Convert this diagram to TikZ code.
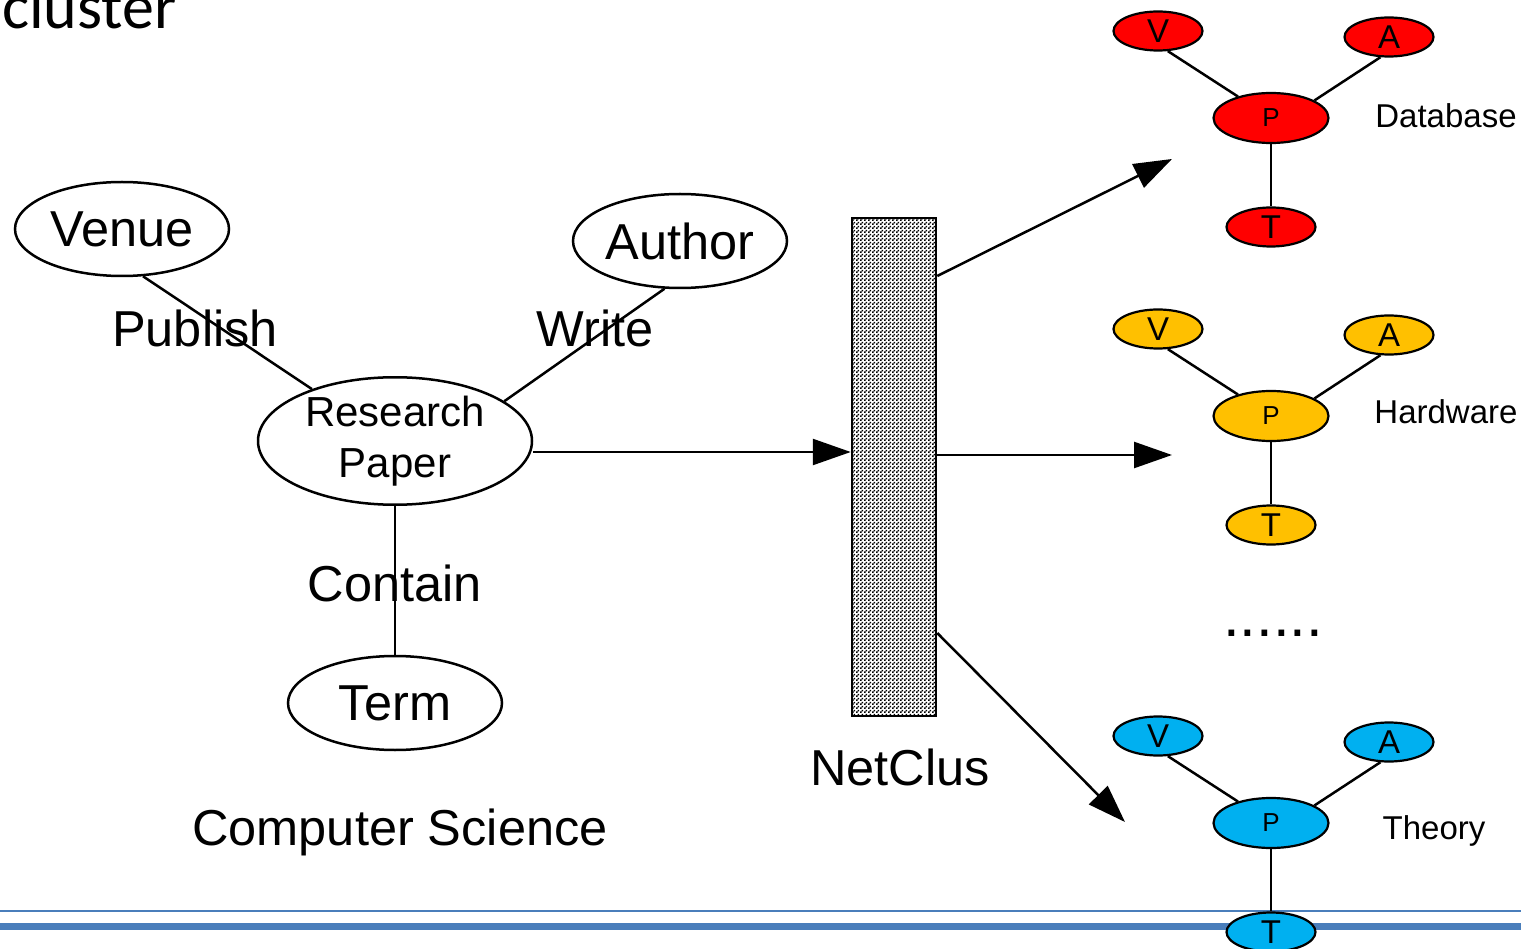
\documentclass[tikz,border=0pt]{standalone}
\usepackage{fontspec}
\setmainfont{Liberation Sans}
\newfontfamily\calibfont{Carlito}
\usetikzlibrary{shapes.geometric,arrows.meta,patterns,calc}
\definecolor{dbred}{HTML}{FF0000}
\definecolor{hwyellow}{HTML}{FFC000}
\definecolor{thblue}{HTML}{00B0F0}
\definecolor{rule}{HTML}{4A7EBB}
\pgfdeclarepatternformonly{finecheck}{\pgfpointorigin}{\pgfqpoint{4pt}{4pt}}{\pgfqpoint{4pt}{4pt}}{%
  \pgfpathrectangle{\pgfpointorigin}{\pgfqpoint{2pt}{2pt}}%
  \pgfpathrectangle{\pgfqpoint{2pt}{2pt}}{\pgfqpoint{2pt}{2pt}}%
  \pgfusepath{fill}}
\tikzset{
  bigell/.style={ellipse, draw, line width=2.5pt, minimum width=214pt, minimum height=94pt, inner sep=0pt, font=\fontsize{50.5}{52}\selectfont},
  lbl/.style={anchor=base, inner sep=0pt, font=\fontsize{50.5}{52}\selectfont},
  toplbl/.style={anchor=base, inner sep=0pt, font=\fontsize{33}{34}\selectfont},
  cv/.style={ellipse, draw, line width=2.2pt, minimum width=89pt, minimum height=39pt, inner sep=0pt, font=\fontsize{33}{33}\selectfont},
  cp/.style={ellipse, draw, line width=2.2pt, minimum width=115pt, minimum height=50pt, inner sep=0pt, font=\fontsize{26}{26}\selectfont},
  conn/.style={line width=2.5pt},
  arr/.style={line width=2.5pt, -{Triangle[length=38pt,width=26pt]}},
}
\newcommand\topicgroup[6]{%
  \node[cp, fill=#2] (#1P) at (1271,#3) {P};
  \node[cv, fill=#2] (#1V) at (1158,#3-87) {V};
  \node[cv, fill=#2] (#1A) at (1389,#3-81) {A};
  \node[cv, fill=#2] (#1T) at (1271,#3+109) {T};
  \draw[conn] (#1V.-64) -- (#1P.147);
  \draw[conn] (#1A.-113) -- (#1P.22);
  \draw[conn] (#1P.south) -- (#1T.north);
  \node[toplbl] (#1L) at (#5,#3+#6) {#4};
}
\begin{document}
\begin{tikzpicture}[x=1pt,y=-1pt]
\useasboundingbox (0,0) rectangle (1521,949);
% bottom rules
\coordinate (ruleAl) at (0,910.7);
\coordinate (ruleAr) at (1521,910.7);
\coordinate (ruleBl) at (0,926.5);
\coordinate (ruleBr) at (1521,926.5);
\draw[rule, line width=2.2pt] (ruleAl) -- (ruleAr);
\draw[rule, line width=7.5pt] (ruleBl) -- (ruleBr);

% title fragment
\node[anchor=base west, inner sep=0pt, font=\calibfont\fontsize{64}{66}\selectfont] (clus) at (2,29) {cluster};

% left graph
\node[bigell] (venue) at (122,229) {Venue};
\node[bigell] (author) at (680,241) {Author};
\node[bigell] (term) at (395,703) {Term};
\node[ellipse, draw, line width=2.5pt, minimum width=274pt, minimum height=120pt, inner sep=0pt, align=center, font=\fontsize{42}{51}\selectfont] (rp) at (395,441) {Research\\Paper};

\draw[conn] (venue.-66) -- (rp.148);
\draw[conn] (author.-108) -- (rp.20);
\draw[conn] (rp.south) -- (term.north);

\node[lbl] (publish) at (195,347) {Publish};
\node[lbl] (write) at (595,347) {Write};
\node[lbl] (contain) at (395,601) {Contain};
\node[lbl] (cs) at (400,845) {Computer Science};

% NetClus box
\node[draw, line width=2.5pt, minimum width=84pt, minimum height=498pt, inner sep=0pt, preaction={fill=white}, pattern=finecheck] (netclus) at (894,467) {};
\node[lbl] (netlbl) at (900,785) {NetClus};

\draw[arr] ([yshift=-11pt]rp.east) -- ([yshift=15pt]netclus.west);

\coordinate (endA) at (1172,159);
\coordinate (endB) at (1172,455);
\coordinate (endC) at (1125,822);
\draw[arr] ([yshift=191pt]netclus.east) -- (endA);
\draw[arr] ([yshift=12pt]netclus.east) -- (endB);
\draw[arr] ([yshift=-166pt]netclus.east) -- (endC);

% topic clusters
\topicgroup{db}{dbred}{118}{Database}{1446}{10}
\topicgroup{hw}{hwyellow}{416}{Hardware}{1446}{8}
\topicgroup{th}{thblue}{823}{Theory}{1434}{16}

\node[anchor=base, inner sep=0pt, font=\fontsize{60}{60}\selectfont] (dots) at (1273,636) {......};
\end{tikzpicture}
\end{document}
